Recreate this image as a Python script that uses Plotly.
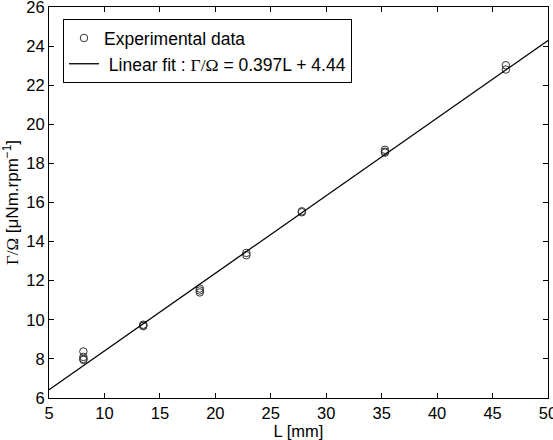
import numpy as np
import plotly.graph_objects as go

L_data = [8.1, 8.1, 8.1, 8.1, 13.5, 13.5, 13.5, 18.6, 18.6, 18.6, 22.8, 22.8, 27.8, 27.8, 35.3, 35.3, 35.3, 46.2, 46.2]
G_data = [8.38, 8.1, 8.0, 7.95, 9.7, 9.75, 9.68, 11.6, 11.5, 11.4, 13.3, 13.42, 15.5, 15.55, 18.6, 18.7, 18.55, 22.8, 23.02]

slope = 0.397
intercept = 4.44
L_fit = [5, 50]
G_fit = [slope * v + intercept for v in L_fit]

x_ticks = [5, 10, 15, 20, 25, 30, 35, 40, 45, 50]
y_ticks = [6, 8, 10, 12, 14, 16, 18, 20, 22, 24, 26]

serif = "<span style='font-family:Liberation Serif'>"
FONT = "Liberation Sans, Arial"
FS = 16.5

fig = go.Figure()
fig.add_trace(go.Scatter(
    x=L_data, y=G_data, mode="markers", name="Experimental data",
    marker=dict(symbol="circle-open", size=7.5, color="#333333", line=dict(width=1)),
))
fig.add_trace(go.Scatter(
    x=L_fit, y=G_fit, mode="lines",
    name="&nbsp;Linear fit : " + serif + "Γ/Ω</span> = 0.397L + 4.44",
    line=dict(color="black", width=1.3),
))

axis_common = dict(
    showgrid=False, zeroline=False, showline=True, linecolor="black", linewidth=1,
    mirror="ticks", ticks="inside", ticklen=5, tickcolor="black",
    tickfont=dict(family=FONT, size=FS, color="black"),
    ticklabeloverflow="allow",
)
fig.update_xaxes(range=[5, 50], tickvals=x_ticks,
                 title=dict(text="L [mm]", font=dict(family=FONT, size=FS, color="black"), standoff=0),
                 **axis_common)
fig.update_yaxes(range=[6, 26], tickvals=y_ticks,
                 title=dict(text=serif + "Γ/Ω</span> [μNm.rpm<sup>−1</sup>]", font=dict(family=FONT, size=FS + 0.5, color="black"), standoff=8),
                 **axis_common)

fig.update_layout(
    width=553, height=440,
    margin=dict(l=49, r=5, t=7, b=42, autoexpand=False),
    plot_bgcolor="white", paper_bgcolor="white",
    font=dict(family=FONT, size=FS, color="black"),
    legend=dict(x=0.028, y=0.969, xanchor="left", yanchor="top",
                bordercolor="black", borderwidth=1, bgcolor="white",
                font=dict(size=17.5), tracegroupgap=0, itemwidth=30),
    showlegend=True,
)

fig.write_html("out.html")
